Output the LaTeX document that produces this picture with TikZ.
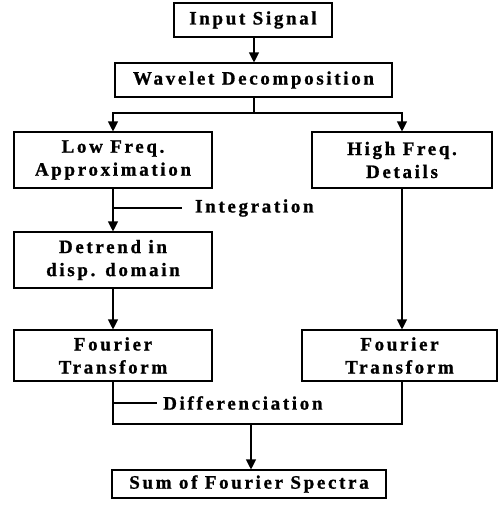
\documentclass[tikz,border=0pt]{standalone}
\usepackage{fontspec}
\setmainfont{Liberation Serif}[LetterSpace=14,BoldFeatures={FakeBold=1}]
\usetikzlibrary{arrows.meta}
\begin{document}
\begin{tikzpicture}[x=1pt,y=-1pt,
  box/.style={draw,line width=1.1pt,inner sep=0pt,align=center,
    font=\fontsize{19}{23}\selectfont\bfseries},
  lbl/.style={inner sep=0pt,anchor=west,font=\fontsize{19}{23}\selectfont\bfseries},
  con/.style={line width=1.1pt},
  arr/.style={line width=1.1pt,-{Triangle[width=10pt,length=10pt]}}]
\useasboundingbox (0,0) rectangle (499,506);
\node[box,minimum width=158pt,minimum height=34pt] (in) at (253,20) {Input Signal};
\node[box,minimum width=277pt,minimum height=34pt] (wav) at (253.5,80) {Wavelet Decomposition};
\node[box,minimum width=198pt,minimum height=56pt] (low) at (113,160) {Low Freq.\\Approximation};
\node[box,minimum width=180pt,minimum height=56pt] (high) at (402,160) {High Freq.\\Details};
\node[box,minimum width=198pt,minimum height=56pt] (det) at (113,260) {Detrend in\\disp. domain};
\node[box,minimum width=198pt,minimum height=51pt] (ft1) at (113,355.5) {Fourier\\Transform};
\node[box,minimum width=195pt,minimum height=51pt] (ft2) at (399.5,355.5) {Fourier\\Transform};
\node[box,minimum width=274pt,minimum height=28pt] (sum) at (249,484) {Sum of Fourier Spectra};
\coordinate (br) at (254,113);
\coordinate (jn) at (251,424);
\coordinate (ti) at (182,208);
\coordinate (td) at (157,403);
\node[lbl] (int) at (195,208) {Integration};
\node[lbl] (dif) at (163,403) {Differenciation};
\draw[arr] (in.south -| br) -- (wav.north -| br);
\draw[con] (wav.south -| br) -- (br);
\draw[arr] (br) -| (low.north);
\draw[arr] (br) -| (high.north);
\draw[arr] (low.south) -- (det.north);
\draw[con] (ti -| low.south) -- (ti);
\draw[arr] (det.south) -- (ft1.north);
\draw[arr] (high.south) -- (high.south |- ft2.north);
\draw[con] (ft1.south) |- (jn) -| (ft2.south -| high.south) -- (high.south |- ft2.south);
\draw[con] (td -| ft1.south) -- (td);
\draw[arr] (jn) -- (jn |- sum.north);
\end{tikzpicture}
\end{document}
